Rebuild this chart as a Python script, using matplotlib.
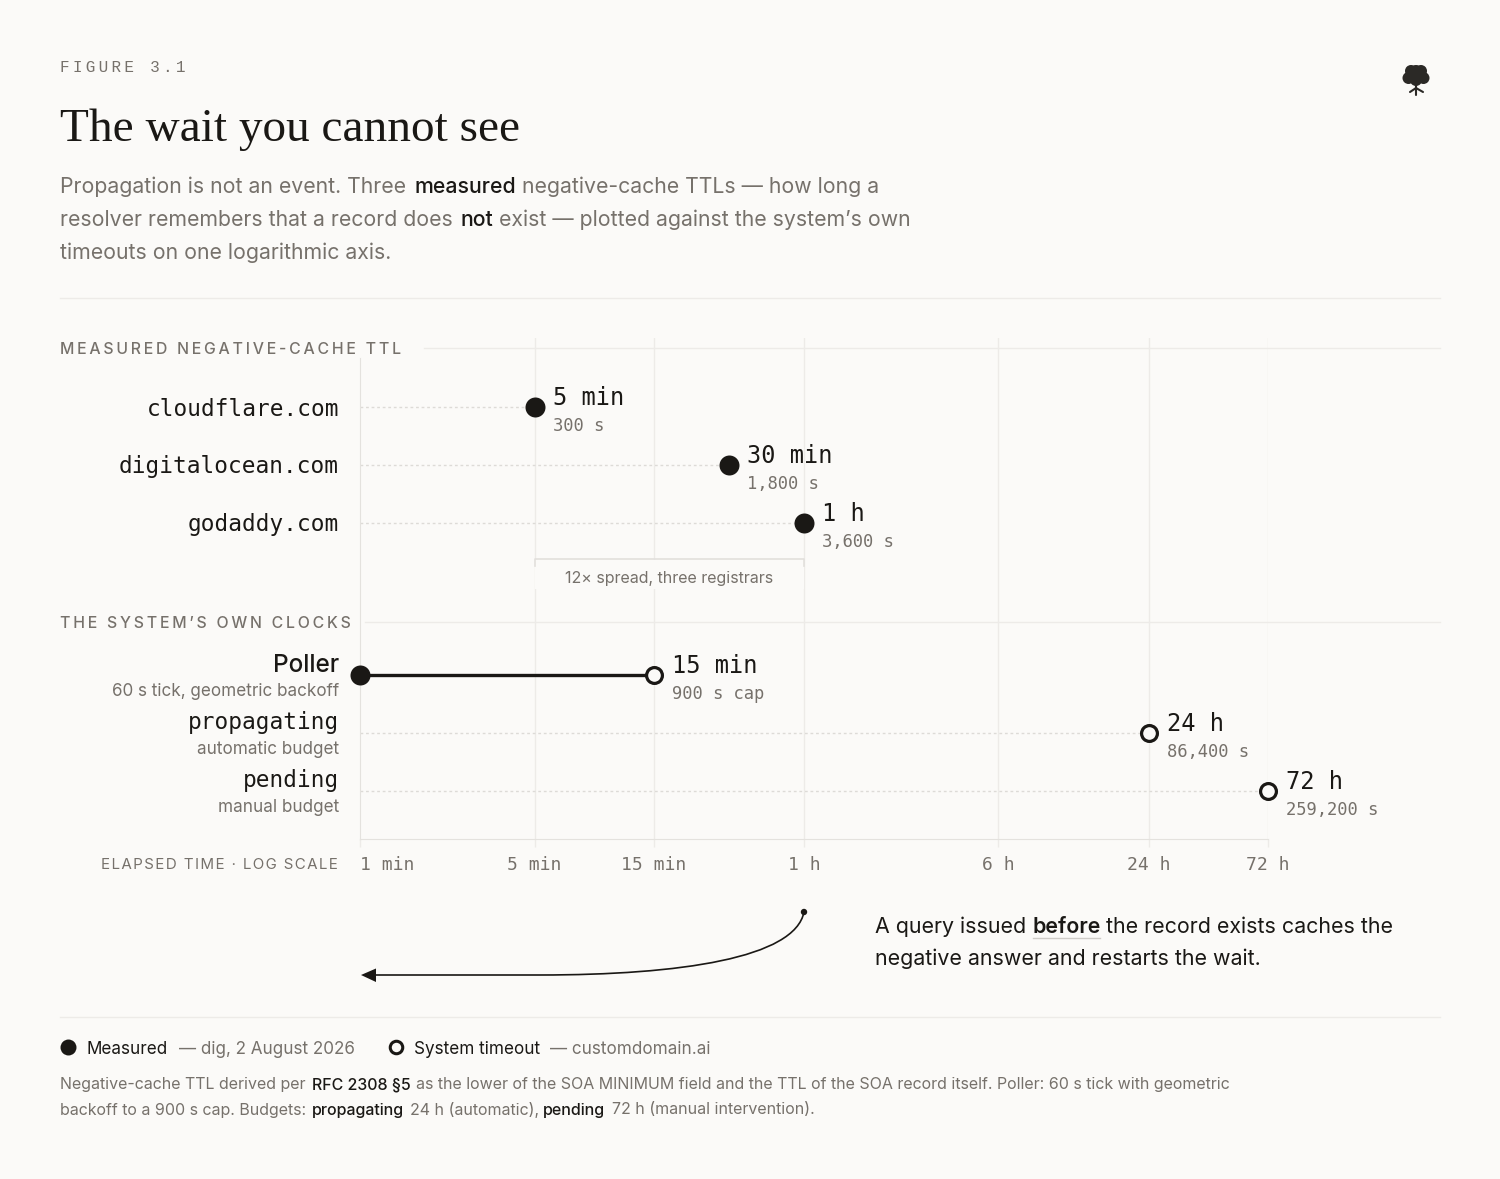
import numpy as np
import matplotlib.pyplot as plt
from matplotlib.path import Path
from matplotlib.patches import PathPatch, Circle, Polygon, Rectangle

BG = '#FBFAF8'
INK = '#1A1815'
GREY = '#76716B'
RULE = '#EDEBE8'
SANS = 'Inter'
MONO = 'DejaVu Sans Mono'

# data, all in seconds
measured_names = ['cloudflare.com', 'digitalocean.com', 'godaddy.com']
measured_ttl = [300, 1800, 3600]
measured_big = ['5 min', '30 min', '1 h']
measured_small = ['300 s', '1,800 s', '3,600 s']

clock_names = ['Poller', 'propagating', 'pending']
clock_subs = ['60 s tick, geometric backoff', 'automatic budget', 'manual budget']
clock_start = 60
clock_values = [900, 86400, 259200]
clock_big = ['15 min', '24 h', '72 h']
clock_small = ['900 s cap', '86,400 s', '259,200 s']

tick_values = [60, 300, 900, 3600, 21600, 86400, 259200]
tick_labels = ['1 min', '5 min', '15 min', '1 h', '6 h', '24 h', '72 h']


def spaced(s, gap='\u200a'):
    return gap.join(s)


def runs(ax, y, parts, size, color=GREY):
    # parts: (x, text, emphasised)
    for x, txt, strong in parts:
        ax.text(x, y, txt, family=SANS, fontsize=size, va='center',
                color=INK if strong else color, weight=500 if strong else 400)


fig = plt.figure(figsize=(15, 11.79), dpi=100, facecolor=BG)

# page layer in pixel coordinates
page = fig.add_axes([0, 0, 1, 1])
page.set_xlim(0, 1500)
page.set_ylim(1179, 0)
page.axis('off')

page.text(60, 67, spaced('FIGURE 3.1', '\u2009'), family=['Liberation Mono', 'DejaVu Sans'],
          fontsize=11.5, color=GREY, va='center')
page.text(60, 141, 'The wait you cannot see', family='Liberation Serif', fontsize=34,
          color=INK, va='baseline')

runs(page, 187, [(60, 'Propagation is not an event. Three', False), (414, 'measured', True),
                 (522, 'negative-cache TTLs — how long a', False)], 15.3)
runs(page, 220, [(60, 'resolver remembers that a record does', False), (460, 'not', True),
                 (499, 'exist — plotted against the system’s own', False)], 15.3)
runs(page, 253, [(60, 'timeouts on one logarithmic axis.', False)], 15.3)

# tree icon
for cx, cy, r in [(1411, 71, 6), (1421, 71, 6), (1416, 72, 7), (1408.5, 78, 6), (1423.5, 78, 6), (1416, 80, 6)]:
    page.add_patch(Circle((cx, cy), r, color='#2B2926', lw=0))
for x0, y0, x1, y1 in [(1416, 82, 1416, 95), (1416, 88, 1410, 92), (1416, 88, 1423, 92)]:
    page.plot([x0, x1], [y0, y1], color='#2B2926', lw=1.5, solid_capstyle='round')

for y in [298, 1017]:
    page.plot([60, 1440], [y, y], color=RULE, lw=1)
page.plot([424, 1440], [348, 348], color=RULE, lw=1)
page.plot([365, 1440], [622, 622], color=RULE, lw=1)

page.text(60, 349, spaced('MEASURED NEGATIVE-CACHE TTL', '\u200a\u200a'), family=SANS, fontsize=11.4,
          color=GREY, va='center', weight=500)
page.text(60, 623, spaced('THE SYSTEM’S OWN CLOCKS', '\u200a\u200a'), family=SANS, fontsize=11.4,
          color=GREY, va='center', weight=500)
page.text(338, 865, spaced('ELAPSED TIME · LOG SCALE'), family=SANS, fontsize=10.9,
          color=GREY, va='center', ha='right')

# chart layer: log x axis in seconds, y stays in page pixels
ax = fig.add_axes([360 / 1500, 1 - 839 / 1179, 908 / 1500, 501 / 1179])
ax.patch.set_alpha(0)
ax.set_xscale('log')
ax.set_xlim(tick_values[0], tick_values[-1])
ax.set_ylim(839, 338)
ax.set_yticks([])
ax.set_xticks(tick_values, tick_labels, family=MONO, fontsize=13, color=GREY)
ax.minorticks_off()
ax.tick_params(axis='x', length=6, width=1, color=RULE, pad=6)
ax.xaxis.get_majorticklabels()[0].set_ha('left')
for s in ['top', 'right']:
    ax.spines[s].set_visible(False)
ax.spines['bottom'].set_color('#E4E2DE')
ax.spines['left'].set_color('#E4E2DE')
ax.spines['left'].set_bounds(839, 358)
ax.grid(axis='x', color=RULE, lw=1)
ax.get_xgridlines()[0].set_visible(False)
ax.set_axisbelow(True)


def value_label(v, y, big, small):
    ax.annotate(big, (v, y), xytext=(18, 9), textcoords='offset pixels', family=MONO,
                fontsize=17, color=INK, va='center', annotation_clip=False)
    ax.annotate(small, (v, y), xytext=(18, -19), textcoords='offset pixels', family=MONO,
                fontsize=12.3, color=GREY, va='center', annotation_clip=False)


measured_y = [407, 465, 523]
for name, v, y, big, small in zip(measured_names, measured_ttl, measured_y, measured_big, measured_small):
    ax.plot([tick_values[0], v], [y, y], color='#DDDBD7', lw=1, ls=(0, (2, 2)))
    ax.plot(v, y, 'o', ms=14.4, color=INK, mew=0, clip_on=False, zorder=5)
    page.text(339, y + 2, name, family=MONO, fontsize=16.4, color=INK, ha='right', va='center')
    value_label(v, y, big, small)

# spread bracket between fastest and slowest registrar
lo, hi = min(measured_ttl), max(measured_ttl)
ax.add_patch(Rectangle((lo, 560), hi - lo, 29, color=BG, lw=0, zorder=1.5))
ax.plot([lo, lo, hi, hi], [566, 559, 559, 566], color='#E2E0DC', lw=1.2, zorder=2)
ax.text(np.sqrt(lo * hi), 578.5, '12× spread, three registrars', family=SANS, fontsize=11.5,
        color=GREY, ha='center', va='center')

clock_y = [675, 733, 791]
for i, (name, sub, v, y, big, small) in enumerate(zip(clock_names, clock_subs, clock_values, clock_y, clock_big, clock_small)):
    if i == 0:
        ax.plot([clock_start, v], [y, y], color=INK, lw=2.4, zorder=4)
        ax.plot(clock_start, y, 'o', ms=14.4, color=INK, mew=0, clip_on=False, zorder=5)
        page.text(339, y - 9, name, family=SANS, fontsize=17.5, color=INK, ha='right',
                  va='center', weight=500)
    else:
        ax.plot([clock_start, v], [y, y], color='#DDDBD7', lw=1, ls=(0, (2, 2)))
        page.text(339, y - 11, name, family=MONO, fontsize=16.4, color=INK, ha='right', va='center')
    ax.plot(v, y, 'o', ms=11.4, mfc=BG, mec=INK, mew=2.3, clip_on=False, zorder=5)
    page.text(339, y + 17, sub, family=SANS, fontsize=12.3, color=GREY, ha='right', va='center')
    value_label(v, y, big, small)

# restart arrow
arrow = Path([(804, 912), (795, 958), (680, 975), (540, 975), (372, 975)],
             [Path.MOVETO, Path.CURVE4, Path.CURVE4, Path.CURVE4, Path.LINETO])
page.add_patch(PathPatch(arrow, fc='none', ec=INK, lw=1.2))
page.add_patch(Circle((804, 912), 3.2, color=INK, lw=0))
page.add_patch(Polygon([(361, 975), (376, 968.5), (376, 982)], color=INK, lw=0))

page.text(875, 927, 'A query issued', family=SANS, fontsize=15.4, color=INK, va='center')
page.text(1033, 927, 'before', family=SANS, fontsize=15.4, color=INK, va='center', weight=600)
page.text(1106, 927, 'the record exists caches the', family=SANS, fontsize=15.4, color=INK, va='center')
page.plot([1033, 1100], [937.5, 937.5], color='#CFCCC7', lw=1)
page.text(875, 959, 'negative answer and restarts the wait.', family=SANS, fontsize=15.4, color=INK, va='center')

# legend
page.plot(68, 1047, 'o', ms=11.5, color=INK, mew=0)
page.plot(395.5, 1047, 'o', ms=9, mfc=BG, mec=INK, mew=2.2)
page.text(87, 1049, 'Measured', family=SANS, fontsize=12.3, color=INK, va='center')
page.text(179, 1049, '— dig, 2 August 2026', family=SANS, fontsize=12.3, color=GREY, va='center')
page.text(414, 1049, 'System timeout', family=SANS, fontsize=12.3, color=INK, va='center')
page.text(550, 1049, '— customdomain.ai', family=SANS, fontsize=12.3, color=GREY, va='center')

runs(page, 1085, [(60, 'Negative-cache TTL derived per', False), (312, 'RFC 2308 §5', True),
                  (416, 'as the lower of the SOA MINIMUM field and the TTL of the SOA record itself. Poller: 60 s tick with geometric', False)], 11.5)
runs(page, 1110, [(60, 'backoff to a 900 s cap. Budgets:', False), (312, 'propagating', True),
                  (410, '24 h (automatic),', False), (543, 'pending', True),
                  (612, '72 h (manual intervention).', False)], 11.5)

fig.savefig('out.png', dpi=100, facecolor=BG)
